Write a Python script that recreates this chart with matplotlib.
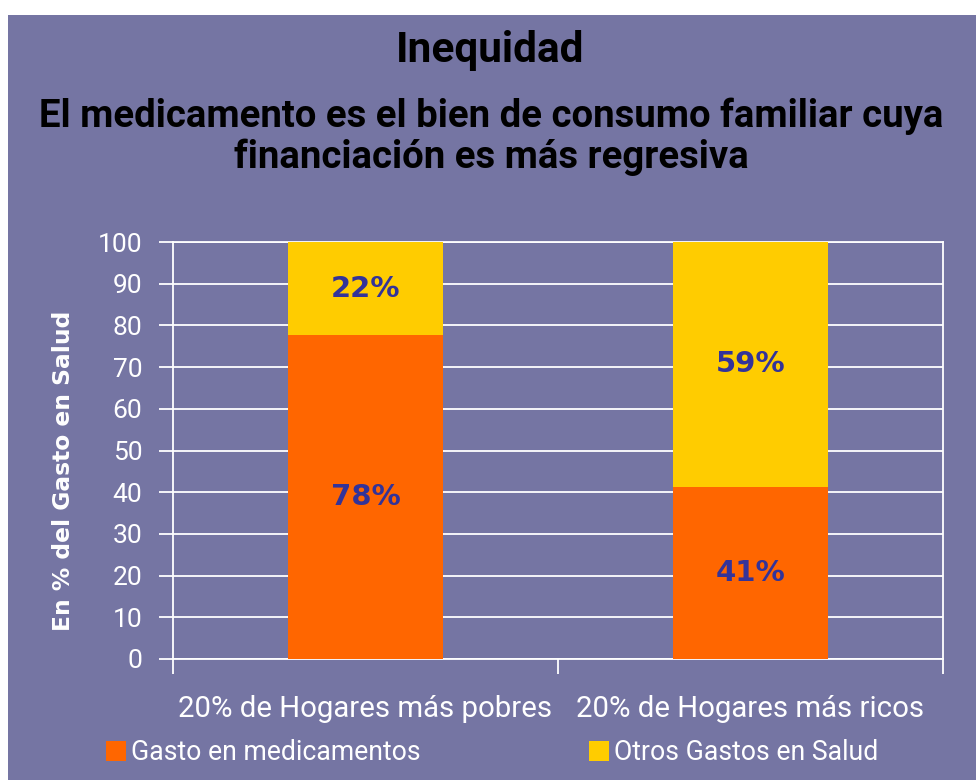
import matplotlib
matplotlib.use("Agg")
import matplotlib.pyplot as plt
from matplotlib.patches import Rectangle

categories = ["20% de Hogares más pobres", "20% de Hogares más ricos"]
medicamentos = [77.6, 41.3]
otros = [22.4, 58.7]
labels_med = ["78%", "41%"]
labels_otros = ["22%", "59%"]
series_names = ["Gasto en medicamentos", "Otros Gastos en Salud"]
yticks = list(range(0, 101, 10))

BG = "#7575a3"
ORANGE = "#ff6600"
YELLOW = "#ffcc00"
LBL = "#333399"
FONT = "Roboto"

W, H = 976, 780
fig = plt.figure(figsize=(W / 100, H / 100), dpi=100)
fig.patch.set_facecolor("white")
fig.patches.append(Rectangle((8 / W, 0), 1 - 8 / W, 1 - 15 / H, transform=fig.transFigure,
                             facecolor=BG, edgecolor="none", zorder=-10))

ax = fig.add_axes([173 / W, 1 - 659 / H, (943 - 173) / W, (659 - 242) / H])
ax.set_facecolor(BG)
x = [0, 1]
width = 0.405
b1 = ax.bar(x, medicamentos, width, color=ORANGE, label=series_names[0], zorder=3)
b2 = ax.bar(x, otros, width, bottom=medicamentos, color=YELLOW, label=series_names[1], zorder=3)

for i in x:
    ax.text(i, medicamentos[i] / 2, labels_med[i], ha="center", va="center",
            color=LBL, fontsize=21, fontweight="bold", family="DejaVu Sans", zorder=4)
    ax.text(i, medicamentos[i] + otros[i] / 2, labels_otros[i], ha="center", va="center",
            color=LBL, fontsize=21, fontweight="bold", family="DejaVu Sans", zorder=4)

ax.set_xlim(-0.5, 1.5)
ax.set_ylim(0, 100)
ax.set_yticks(yticks)
ax.set_yticklabels([str(t) for t in yticks], fontsize=19, color="white", family=FONT)
ax.yaxis.grid(True, color="white", linewidth=1.3, zorder=1)
ax.set_axisbelow(True)
ax.tick_params(axis="y", direction="out", length=10, width=1.3, color="white", pad=12)

ax.set_xticks([-0.5, 0.5, 1.5])
ax.set_xticklabels([])
ax.set_xticks(x, minor=True)
ax.set_xticklabels(categories, minor=True, fontsize=21.2, color="white", family=FONT)
ax.tick_params(axis="x", which="major", direction="out", length=11, width=1.3, color="white")
ax.tick_params(axis="x", which="minor", length=0, pad=26)

for s in ax.spines.values():
    s.set_color("white")
    s.set_linewidth(1.3)

fig.text(64 / W, 1 - 471 / H, "En % del Gasto en Salud", rotation=90, ha="center", va="center",
         color="white", fontsize=16.8, fontweight="bold", family="DejaVu Sans")

fig.text(490 / W, 1 - 62 / H, "Inequidad", ha="center", va="baseline",
         fontsize=30.5, fontweight="bold", color="black", family=FONT)
fig.text(491 / W, 1 - 127 / H, "El medicamento es el bien de consumo familiar cuya",
         ha="center", va="baseline", fontsize=27.6, fontweight="bold", color="black", family=FONT)
fig.text(491 / W, 1 - 168 / H, "financiación es más regresiva",
         ha="center", va="baseline", fontsize=27.6, fontweight="bold", color="black", family=FONT)

leg = fig.legend(handles=[b1, b2], labels=series_names, ncol=2, loc="center left",
                 bbox_to_anchor=(106 / W, 1 - 752.5 / H), frameon=False,
                 prop={"family": FONT, "size": 19.2}, labelcolor="white",
                 handlelength=0.75, handleheight=0.8, handletextpad=0.2,
                 columnspacing=6.3, borderpad=0, borderaxespad=0)

fig.savefig("out.png", dpi=100, facecolor=fig.get_facecolor())
